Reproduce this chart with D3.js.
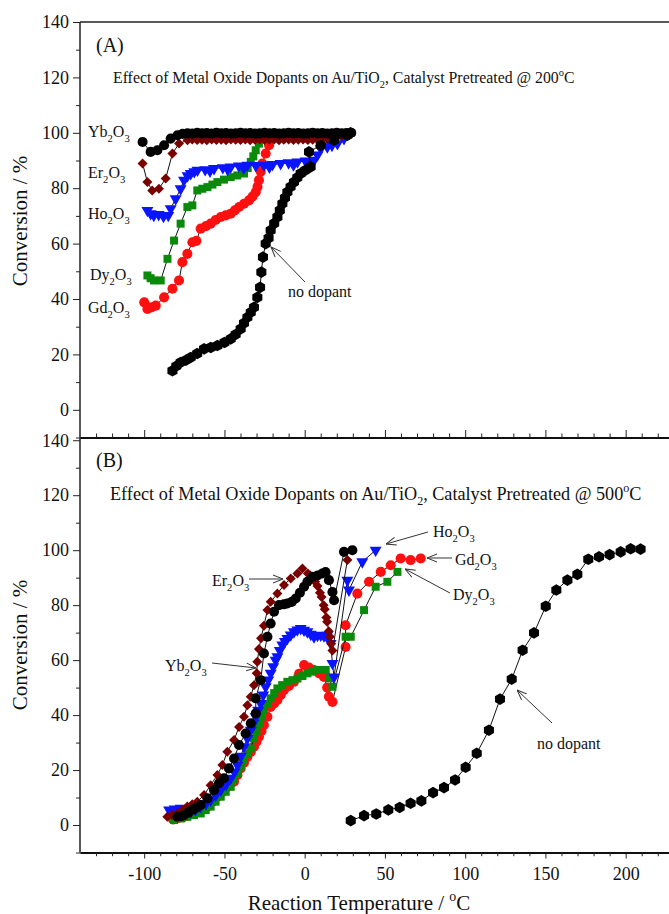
<!DOCTYPE html>
<html>
<head>
<meta charset="utf-8">
<script src="https://cdn.jsdelivr.net/npm/d3@7"></script>
<style>
  body { margin: 0; background: #fff; }
  svg { display: block; font-family: "Liberation Serif", "DejaVu Serif", serif; }
</style>
</head>
<body>
<svg id="chart" width="669" height="914"></svg>
<script>
// ---- data: [temperature (C), conversion (%)] ----
// panel A, pretreated at 200 C
var topGd = [[-100,38.8],[-98,36.4],[-95.5,37],[-92.8,37.6],[-87.6,40.6],[-82.4,43.7],[-78.3,46.7],[-76.2,53.3],[-73.1,56.3],[-70,60.5],[-67.5,61],[-64.8,65.4],[-61.5,66.3],[-58.6,67.2],[-55.5,68.5],[-52.3,69.6],[-49.2,70.2],[-46.1,70.8],[-43.5,72],[-40.9,73.2],[-37.8,74.4],[-34.7,75.6],[-32.5,77],[-30.5,78.6],[-29.4,80.5],[-28.5,82.9],[-27.4,86],[-26.4,88.9],[-24.3,92.5],[-22.2,95.5],[-21.2,97.9],[-18,99.3],[-14,99.5]];
var topDy = [[-98,48.5],[-96,47.5],[-93.9,46.7],[-89.7,46.7],[-85.5,54.5],[-81.4,61.1],[-77.3,67.2],[-73.1,73.2],[-70,73.8],[-66.9,79.2],[-63.8,79.8],[-60.6,80.4],[-57.5,81.3],[-54.4,82.2],[-50.3,83.1],[-46.1,84],[-42,84.6],[-37.8,85.3],[-35.5,87.3],[-33.6,89.5],[-32,91.5],[-30.5,93.7],[-28.5,96.1],[-26.5,98.5]];
var topHo = [[-98,72],[-96,70.8],[-94,70.2],[-91,70.5],[-88,69.8],[-85,70.2],[-83.5,72.6],[-80.4,76.2],[-77.3,79.8],[-75.2,82.9],[-73,84.5],[-71,85.3],[-68.8,86],[-66.8,86.5],[-62,86.7],[-59,86.2],[-56.5,87.1],[-51,87.4],[-48,86.8],[-46.1,87.7],[-41,88],[-38,87.3],[-35.7,88.3],[-30.5,88.2],[-25.4,88.3],[-22,87.6],[-20,88.6],[-15,88.9],[-10,89.2],[-7,88.4],[-4.5,89.5],[0.5,89.8],[3,89],[5.8,90.1],[8,92],[10,94.3],[14.1,94.9],[17,95.5],[20.4,96.1],[24.5,97.9],[27.6,99.7]];
var topEr = [[-101,88.9],[-98,82.2],[-95,79.2],[-90.8,79.8],[-86.6,83.5],[-82.4,92.5],[-78.3,96.1],[-73,97.3],[-70,97.6],[-67,97.4],[-64,97.5],[-61,97.3],[-58,97.6],[-55,97.4],[-52,97.5],[-49,97.3],[-46,97.6],[-43,97.5],[-40,97.4],[-37,97.6],[-34,97.3],[-31,97.5],[-28,97.6],[-25,97.4],[-22,97.5],[-19,97.6],[-16,97.3],[-13,97.5],[-10,97.6],[-7,97.4],[-4,97.5],[-1,97.6],[2,97.4],[5,97.5],[8,97.6],[11,97.7],[14,97.9],[17,98.1],[20,98.4],[23,98.8],[26,99.2],[28,99.5]];
var topYb = [[-101,96.7],[-96,93.1],[-91.8,93.7],[-87.6,95.5],[-83.5,97.9],[-79.3,99.1],[-76,99.6],[-73,99.8],[-70,99.7],[-67,100],[-64,99.8],[-61,99.9],[-58,99.7],[-55,100],[-52,99.8],[-49,99.9],[-46,99.7],[-43,99.8],[-40,100],[-37,99.8],[-34,99.9],[-31,99.7],[-28,99.8],[-25,100],[-22,99.8],[-19,99.9],[-16,99.7],[-13,99.8],[-10,100],[-7,99.8],[-4,99.9],[-1,99.7],[2,99.8],[5,100],[8,99.8],[11,99.9],[14,99.7],[17,99.8],[20,100],[23,99.8],[26,99.9],[29,100]];
var topNone = [[-82.4,14.1],[-80,15.8],[-77.3,17.1],[-74,17.9],[-71,18.9],[-67,20.3],[-62.7,22],[-58.5,22.5],[-54.4,23.2],[-50,24.3],[-46.1,25.6],[-43,27.2],[-39.9,29.2],[-37.8,31.3],[-35.7,33.4],[-33.6,35.2],[-31.6,37],[-29.5,40.6],[-27.8,44.2],[-27,49.7],[-26,55.1],[-24.3,60],[-22.5,62],[-21.2,64.8],[-19,67.3],[-17,69.6],[-15.5,72],[-13.9,74.4],[-12.3,76.5],[-10.8,78.6],[-8.8,80.5],[-6.7,82.2],[-4.6,83.8],[-2.5,85.3],[0.5,86.5],[3.7,87.7],[2.7,93.1],[10,95.5],[18.3,97.3],[26.6,99.1],[28.5,100]];

// panel B, pretreated at 500 C
var botGd = [[-82,2],[-79,2.5],[-76,2.8],[-73,3.3],[-70,4],[-67,4.8],[-63.7,5.8],[-60.6,6.7],[-57.5,8.4],[-54.4,10.3],[-51.3,12],[-48.2,13.9],[-44,15.8],[-41.9,18.2],[-39.9,20.6],[-37.8,22.7],[-35.7,24.8],[-33.6,26.6],[-31.6,28.5],[-30,30.3],[-28.5,32.1],[-26.9,34.2],[-25.4,36.4],[-23.2,39.4],[-21.2,43],[-19,44.2],[-17,45.5],[-14.9,47.3],[-12.9,49.1],[-9.8,50.6],[-6.7,52.1],[-3.5,55],[-0.4,58.2],[2.7,57.3],[5.8,56.4],[9,55.2],[12,53.9],[14,50],[15.1,46.7],[17.3,44.8],[25.5,64.8],[25.5,72.7],[32.8,84.2],[40.1,88.5],[47.4,92.1],[53.6,94.5],[59.8,97],[66,96.4],[72.3,97]];
var botDy = [[-81.4,1.8],[-77,2.4],[-73.1,3],[-69,3.6],[-64.8,4.2],[-61.7,5.4],[-58.6,6.7],[-55.5,8.5],[-52.3,10.3],[-49.2,12.1],[-46.1,13.9],[-44,16.4],[-41.9,18.8],[-39.8,21.2],[-37.8,23.6],[-35.7,25.8],[-33.6,27.9],[-31.6,31.5],[-30,34.2],[-28.5,37],[-27,39.4],[-25.4,41.8],[-23.3,44],[-21.2,46.1],[-19,48],[-17,49.7],[-14,50.9],[-10.8,52.1],[-7.6,52.7],[-4.5,53.3],[-1.4,54.2],[1.7,55.2],[4.8,55.8],[7.9,56.4],[10.5,56.4],[13.1,56.4],[15.2,53.4],[17.3,50.3],[25.5,68.5],[28.7,68.5],[37,78.2],[44.2,86.7],[51.5,88.5],[57.8,92.1]];
var botHo = [[-84.5,5.5],[-81,5.8],[-77.3,6.1],[-74,5.3],[-71,4.8],[-68,5.5],[-64.8,6.7],[-61.5,7.8],[-58.6,9.1],[-55.5,10.8],[-52.3,12.7],[-49,14.8],[-46.1,17],[-43.8,19.3],[-41.9,21.8],[-39.8,25],[-37.8,28.5],[-35.7,31.5],[-33.6,34.5],[-32,37],[-30.5,39.4],[-29,41.8],[-27.4,44.2],[-25.8,47.3],[-24.3,50.3],[-22.7,52.8],[-21.2,55.2],[-19.6,57.6],[-18.1,60],[-17,61.2],[-15.5,63.5],[-13.9,65.5],[-12.3,66.8],[-10.8,67.9],[-8.7,69.2],[-6.7,70.3],[-4.6,71],[-2.5,71.5],[-0.4,70.9],[1.7,70.3],[3.8,69.4],[5.8,68.5],[8,69],[10,69.1],[12,68.8],[14.1,69.1],[16.2,66.1],[17.3,58.8],[18.3,53.9],[26.6,89.1],[27.6,85.5],[35.9,95.8],[44.2,100]];
var botEr = [[-85.6,3],[-82.5,3.6],[-79.3,4.2],[-76.2,5.5],[-73.1,6.7],[-70,7.6],[-66.9,8.5],[-62.7,10.9],[-58.6,14.5],[-54.4,18.2],[-51.3,21.8],[-48.2,26.7],[-44,30.9],[-40.9,35.7],[-37.8,39.4],[-35.7,43.6],[-33.6,46.7],[-31.6,50.9],[-29.9,55.2],[-29.5,59.4],[-28.5,64],[-27.2,68],[-25.4,72.5],[-23.2,78.2],[-21.2,81.2],[-17,84.2],[-12.9,87.3],[-8.7,89.7],[-4.5,91.5],[-1.4,93.3],[2,91.5],[3.5,90.8],[5.5,89.5],[6.5,88.5],[8,87],[9.5,84.5],[10.5,83],[11.8,80],[12.5,78.5],[13.5,75.5],[14,74],[15,70.5],[15.7,68.5],[16.5,66],[17.3,63.5],[26.6,96.4]];
var botYb = [[-79.3,3],[-77,3.2],[-75.2,3.6],[-72.5,4.5],[-70,5.5],[-67.5,6.3],[-64.8,7.3],[-60.6,9.7],[-56.5,12.7],[-53.4,15.2],[-50.3,17],[-47.2,20.6],[-44,24.2],[-40.9,29.1],[-36.8,33.3],[-33.6,37],[-30.5,40.6],[-30.5,46.1],[-27.4,52.7],[-25.4,62.4],[-23.2,68.5],[-21.2,73.3],[-19.1,77.6],[-16,80],[-13,80.3],[-10.8,80.6],[-8,81.2],[-5.6,82.4],[-3,84.5],[-0.4,86.7],[1.7,88.5],[4.8,90.3],[8,90.8],[11,91.5],[13,92],[15.1,89.1],[17.3,84.8],[18.3,81.8],[24.5,99.4],[29.7,100]];
var botNone = [[28.7,1.6],[37,3.4],[44.6,4],[52.1,5.5],[59.2,6.4],[66,7.9],[72.7,8.8],[80,11.8],[86.8,13.6],[93.7,16.4],[100.3,21],[107.2,26.1],[114.8,34.5],[121.7,45.8],[129,53.1],[135.8,63.6],[142.9,69.9],[150.2,79.6],[156.8,85.5],[163.7,89.1],[169.9,91.2],[176.7,96.7],[183.4,97.6],[190,98.4],[196.9,99.4],[203.1,100.5],[209.3,100.4]];

var yMajor = [0, 20, 40, 60, 80, 100, 120, 140];
var yMinor = [-10, 10, 30, 50, 70, 90, 110, 130];
var xMajor = [-100, -50, 0, 50, 100, 150, 200];
var xMinor = d3.range(-130, 230, 10).filter(function(v) { return v % 50 !== 0; });

var svg = d3.select("#chart");
var x = d3.scaleLinear().domain([-140, 228]).range([80, 670.6]);
var yTop = d3.scaleLinear().domain([-10, 140]).range([437.5, 22]);
var yBot = d3.scaleLinear().domain([-10, 141]).range([852.5, 437.5]);

// text with _x subscripts and ^x superscripts
function rich(sel, str, fs) {
  var parts = [], buf = '', i = 0;
  while (i < str.length) {
    var c = str[i];
    if (c === '_' || c === '^') {
      if (buf) parts.push({ t: buf, m: 0 });
      buf = '';
      parts.push({ t: str[i + 1], m: c === '_' ? 1 : -1 });
      i += 2;
    } else { buf += c; i++; }
  }
  if (buf) parts.push({ t: buf, m: 0 });
  var cur = 0;
  parts.forEach(function(p) {
    var off = p.m === 1 ? fs * 0.3 : (p.m === -1 ? -fs * 0.42 : 0);
    sel.append("tspan").attr("dy", off - cur).attr("font-size", p.m ? fs * 0.66 : fs).text(p.t);
    cur = off;
  });
  return sel;
}

function label(x0, y0, str, fs, anchor) {
  var t = svg.append("text").attr("x", x0).attr("y", y0)
    .attr("font-size", fs).attr("fill", "#111")
    .attr("text-anchor", anchor || "start");
  return rich(t, str, fs);
}

// hexagon marker path
function hexPath(r) {
  var pts = d3.range(6).map(function(k) {
    var a = Math.PI / 3 * k - Math.PI / 2;
    return [r * Math.cos(a), r * Math.sin(a)];
  });
  return "M" + pts.join("L") + "Z";
}

var shapes = {
  circle: d3.symbol().type(d3.symbolCircle).size(80)(),
  square: d3.symbol().type(d3.symbolSquare).size(64)(),
  tri: d3.symbol().type(d3.symbolTriangle).size(62)(),
  diamond: d3.symbol().type(d3.symbolSquare).size(50)(),
  hex: hexPath(5.8)
};

function series(data, y, color, shape) {
  var line = d3.line().x(function(d) { return x(d[0]); }).y(function(d) { return y(d[1]); });
  svg.append("path").datum(data).attr("d", line)
    .attr("fill", "none").attr("stroke", "#111").attr("stroke-width", 1);
  var rot = shape === 'tri' ? 180 : (shape === 'diamond' ? 45 : 0);
  svg.append("g").selectAll("path").data(data).join("path")
    .attr("d", shapes[shape])
    .attr("transform", function(d) { return "translate(" + x(d[0]) + "," + y(d[1]) + ") rotate(" + rot + ")"; })
    .attr("fill", color);
}

var maroon = "#7a0000", blue = "#0a14ff", green = "#0a8a0a", red = "#ff1010", black = "#000";
var plain = function(d) { return String(d); };

// ---- axes ----
function yAxes(y, top, bottom) {
  var g = svg.append("g").attr("transform", "translate(80,0)");
  g.call(d3.axisLeft(y).tickValues(yMajor).tickSize(7).tickPadding(4).tickSizeOuter(0).tickFormat(plain));
  g.append("g").call(d3.axisLeft(y).tickValues(yMinor).tickSize(4).tickFormat("").tickSizeOuter(0));
  g.selectAll("text").attr("font-size", 18).attr("font-family", "Liberation Serif").attr("fill", "#111");
  g.selectAll(".domain").remove();
  g.append("line").attr("y1", top).attr("y2", bottom).attr("stroke", "#222").attr("stroke-width", 1.5);
}
yAxes(yTop, 22, 437.5);
yAxes(yBot, 437.5, 852.5);

svg.append("line").attr("x1", 80).attr("x2", 669).attr("y1", 22).attr("y2", 22)
  .attr("stroke", "#222").attr("stroke-width", 1.5);

var mid = svg.append("g").attr("transform", "translate(0,437.5)");
mid.call(d3.axisBottom(x).tickValues(xMajor).tickSizeInner(-7.5).tickSizeOuter(0).tickFormat(""));
mid.append("g").call(d3.axisBottom(x).tickValues(xMinor).tickSizeInner(-4).tickSizeOuter(0).tickFormat(""));
mid.selectAll(".domain").attr("stroke-width", 1.5);

var bx = svg.append("g").attr("transform", "translate(0,852.5)");
bx.call(d3.axisBottom(x).tickValues(xMajor).tickSize(6).tickPadding(9).tickSizeOuter(0).tickFormat(plain));
bx.append("g").call(d3.axisBottom(x).tickValues(xMinor).tickSize(3.7).tickFormat("").tickSizeOuter(0));
bx.selectAll("text").attr("font-size", 18).attr("font-family", "Liberation Serif").attr("fill", "#111");
bx.selectAll(".domain").attr("stroke-width", 1.5);
svg.selectAll(".tick line").attr("stroke", "#222");

// axis titles
svg.append("text").attr("transform", "translate(27,221) rotate(-90)")
  .attr("text-anchor", "middle").attr("font-size", 21).attr("fill", "#111").text("Conversion / %");
svg.append("text").attr("transform", "translate(27,645) rotate(-90)")
  .attr("text-anchor", "middle").attr("font-size", 21).attr("fill", "#111").text("Conversion / %");
label(359, 910, "Reaction Temperature / ^oC", 21, "middle");

// ---- series ----
series(topGd, yTop, red, 'circle');
series(topDy, yTop, green, 'square');
series(topHo, yTop, blue, 'tri');
series(topEr, yTop, maroon, 'diamond');
series(topYb, yTop, black, 'circle');
series(topNone, yTop, black, 'hex');

series(botGd, yBot, red, 'circle');
series(botDy, yBot, green, 'square');
series(botHo, yBot, blue, 'tri');
series(botEr, yBot, maroon, 'diamond');
series(botYb, yBot, black, 'circle');
series(botNone, yBot, black, 'hex');

// ---- annotations ----
svg.append("defs").append("marker").attr("id", "arr")
  .attr("viewBox", "0 0 10 10").attr("refX", 10).attr("refY", 5)
  .attr("markerWidth", 10).attr("markerHeight", 10).attr("markerUnits", "userSpaceOnUse")
  .attr("orient", "auto")
  .append("path").attr("d", "M0,1 L10,5 L0,9").attr("fill", "none").attr("stroke", "#333").attr("stroke-width", 1);

function arrow(x1, y1, x2, y2) {
  svg.append("line").attr("x1", x1).attr("y1", y1).attr("x2", x2).attr("y2", y2)
    .attr("stroke", "#333").attr("stroke-width", 1).attr("marker-end", "url(#arr)");
}

label(96, 52, "(A)", 20);
label(113, 83, "Effect of Metal Oxide Dopants on Au/TiO_2, Catalyst Pretreated @ 200^oC", 15.8);
label(88, 137, "Yb_2O_3", 16);
label(88, 178, "Er_2O_3", 16);
label(88, 219, "Ho_2O_3", 16);
label(90, 280, "Dy_2O_3", 16);
label(88, 313, "Gd_2O_3", 16);
label(288, 297, "no dopant", 16);
arrow(305, 282, 271, 247);

label(96, 467, "(B)", 20);
label(110, 500, "Effect of Metal Oxide Dopants on Au/TiO_2, Catalyst Pretreated @ 500^oC", 18.2);
label(433, 537, "Ho_2O_3", 16);
arrow(428, 532, 386, 544);
label(455, 565, "Gd_2O_3", 16);
arrow(452, 558, 427, 558);
label(453, 600, "Dy_2O_3", 16);
arrow(450, 593, 405, 569);
label(212, 586, "Er_2O_3", 16);
arrow(249, 579, 283, 579);
label(165, 671, "Yb_2O_3", 16);
arrow(212, 663, 256, 668);
label(537, 749, "no dopant", 16);
arrow(552, 723, 517, 690);
</script>
</body>
</html>
